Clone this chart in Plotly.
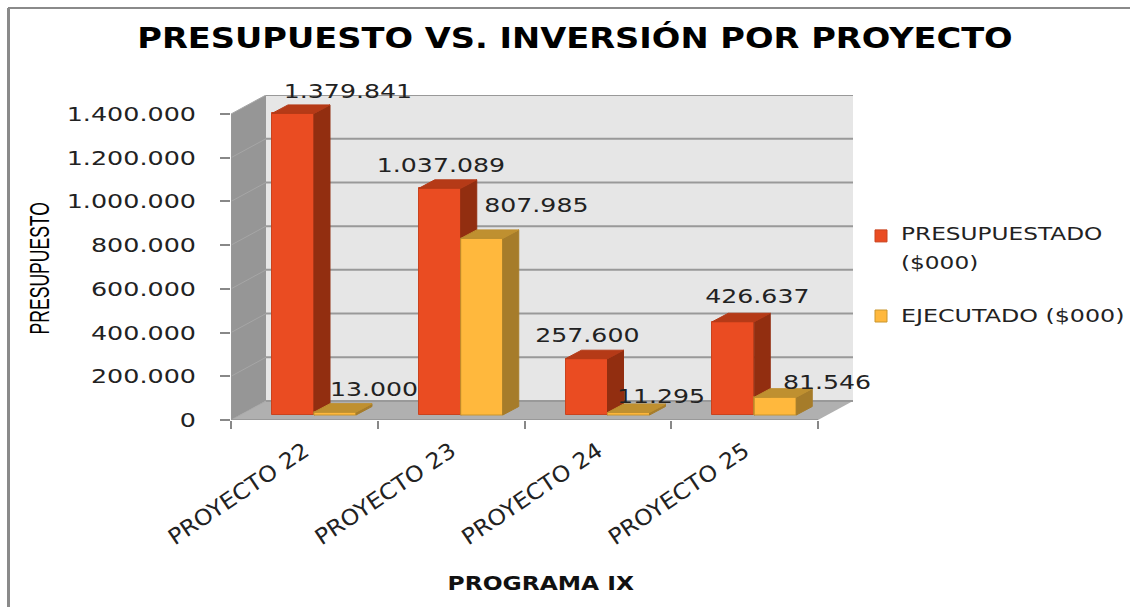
import plotly.graph_objects as go

categories = ["PROYECTO 22", "PROYECTO 23", "PROYECTO 24", "PROYECTO 25"]
presupuestado = [1379841, 1037089, 257600, 426637]
ejecutado = [13000, 807985, 11295, 81546]
y_ticks = [0, 200000, 400000, 600000, 800000, 1000000, 1200000, 1400000]
y_labels = ["0", "200.000", "400.000", "600.000", "800.000", "1.000.000", "1.200.000", "1.400.000"]


def es(v):
    return f"{v:,}".replace(",", ".")


W, H = 1130, 607
L, R, T, B = 231, 855, 95, 420
PX_X = 146.75
PX_Y = 306 / 1400000
xr = (R - L) / PX_X
yr = (B - T) / PX_Y


def vx(px):
    return px / PX_X


def vy(px):
    return px / PX_Y


WALL_DX, WALL_DY = vx(35), vy(19)
BAR_BASE = vy(5)
BAR_W = vx(42)
RED_OFF, YEL_OFF = vx(41), vx(83)
DEPTH_X, DEPTH_Y = vx(16), vy(8.5)

RED = dict(front="#EA4C22", edge="#C9431E", side="#922E10", top="#B53A17")
YEL = dict(front="#FFB83D", edge="#C9962F", side="#A67C2A", top="#BF9030")


def poly(xs, ys, color, line=None):
    return go.Scatter(x=xs + xs[:1], y=ys + ys[:1], mode="lines", fill="toself",
                      fillcolor=color, line=dict(color=line or color, width=1),
                      showlegend=False, hoverinfo="skip")


fig = go.Figure()
xs = list(range(4))
fig.add_bar(x=[g + RED_OFF + BAR_W / 2 for g in xs], y=presupuestado, base=BAR_BASE, width=BAR_W,
            name="PRESUPUESTADO<br>($000)", legendgroup="a",
            marker=dict(color=RED["front"], line=dict(color=RED["edge"], width=1)))
fig.add_bar(x=[g + YEL_OFF + BAR_W / 2 for g in xs], y=ejecutado, base=BAR_BASE, width=BAR_W,
            name="EJECUTADO ($000)", legendgroup="b",
            marker=dict(color=YEL["front"], line=dict(color=YEL["edge"], width=1)))

for g in xs:
    for off, val, c in ((RED_OFF, presupuestado[g], RED), (YEL_OFF, ejecutado[g], YEL)):
        x0 = g + off
        x1 = x0 + BAR_W
        y0 = BAR_BASE
        y1 = BAR_BASE + val
        if c is YEL:
            fig.add_trace(poly([x0, x1, x1, x0], [y0, y0, y1, y1], c["front"], c["edge"]))
        fig.add_trace(poly([x1, x1 + DEPTH_X, x1 + DEPTH_X, x1],
                           [y0, y0 + DEPTH_Y, y1 + DEPTH_Y, y1], c["side"]))
        fig.add_trace(poly([x0, x1, x1 + DEPTH_X, x0 + DEPTH_X],
                           [y1, y1, y1 + DEPTH_Y, y1 + DEPTH_Y], c["top"]))

shapes = []


def path(pts):
    return "M " + " L ".join(f"{x},{y}" for x, y in pts) + " Z"


top_v = y_ticks[-1]
front_end = len(categories)
shapes.append(dict(type="path", layer="below", line=dict(width=0), fillcolor="#E6E6E6",
                   path=path([(WALL_DX, WALL_DY), (front_end + WALL_DX, WALL_DY),
                              (front_end + WALL_DX, WALL_DY + top_v), (WALL_DX, WALL_DY + top_v)])))
shapes.append(dict(type="path", layer="below", line=dict(width=0), fillcolor="#969696",
                   path=path([(0, 0), (WALL_DX, WALL_DY), (WALL_DX, WALL_DY + top_v), (0, top_v)])))
shapes.append(dict(type="path", layer="below", line=dict(width=0), fillcolor="#B0B0B0",
                   path=path([(0, 0), (WALL_DX, WALL_DY), (front_end + WALL_DX, WALL_DY), (front_end, 0)])))
for t in y_ticks:
    shapes.append(dict(type="line", layer="below", x0=WALL_DX, x1=front_end + WALL_DX,
                       y0=WALL_DY + t, y1=WALL_DY + t, line=dict(color="#999999", width=2)))
    shapes.append(dict(type="line", layer="below", x0=0, x1=WALL_DX, y0=t, y1=WALL_DY + t,
                       line=dict(color="#A6A6A6", width=1)))
shapes.append(dict(type="line", layer="below", x0=0, x1=front_end, y0=0, y1=0,
                   line=dict(color="#999999", width=2)))
shapes.append(dict(type="line", layer="below", x0=0, x1=0, y0=0, y1=top_v,
                   line=dict(color="#999999", width=1.5)))


def paper_x(px):
    return (px - L) / (R - L)


def paper_y(py):
    return (B - py) / (B - T)


shapes.append(dict(type="line", xref="paper", yref="paper", x0=paper_x(8.5), x1=paper_x(8.5),
                   y0=paper_y(607), y1=paper_y(8), line=dict(color="#8A8A8A", width=3), layer="below"))
shapes.append(dict(type="line", xref="paper", yref="paper", x0=paper_x(8), x1=paper_x(1130),
                   y0=paper_y(8), y1=paper_y(8), line=dict(color="#8A8A8A", width=2), layer="below"))

label_shift_red = [(55, 22), (1, 23), (1, 24), (24, 26)]
label_shift_yel = [(39, 23), (55, 33), (32, 17), (52, 15)]
LABEL_FONT = dict(family="DejaVu Sans", size=20, color="#222222")
annotations = []
for g in xs:
    for off, val, sh in ((RED_OFF, presupuestado[g], label_shift_red[g]),
                         (YEL_OFF, ejecutado[g], label_shift_yel[g])):
        annotations.append(dict(x=g + off + BAR_W / 2, y=BAR_BASE + val, text=es(val), showarrow=False,
                                xshift=sh[0], yshift=sh[1], xanchor="center", yanchor="middle",
                                font=LABEL_FONT, name="value"))
annotations.append(dict(xref="paper", yref="paper", x=paper_x(541), y=paper_y(583), text="PROGRAMA IX",
                        showarrow=False, xanchor="center", yanchor="middle",
                        font=dict(family="DejaVu Sans", size=19, color="#111111", weight="bold")))
annotations.append(dict(xref="paper", yref="paper", x=paper_x(40), y=paper_y(268), text="PRESUPUESTO",
                        showarrow=False, textangle=-90, xanchor="center", yanchor="middle",
                        font=dict(family="Liberation Sans", size=27, color="#000000")))

fig.update_layout(
    width=W, height=H, barmode="overlay", bargap=0,
    paper_bgcolor="white", plot_bgcolor="rgba(0,0,0,0)",
    margin=dict(l=L, r=W - R, t=T, b=H - B, autoexpand=False),
    title=dict(text="PRESUPUESTO VS. INVERSIÓN POR PROYECTO", x=575 / W, xanchor="center",
               y=1 - 38 / H, yanchor="middle",
               font=dict(family="DejaVu Sans", size=29, color="#000000", weight="bold")),
    xaxis=dict(range=[0, xr], tickmode="array", tickvals=[g + 0.5 for g in xs], ticktext=categories,
               tickangle=-34, ticks="", showgrid=False, zeroline=False, showline=False,
               ticklabelstandoff=13, tickfont=dict(family="DejaVu Sans", size=22, color="#222222"),
               minor=dict(ticks="outside", ticklen=8, tickwidth=1.5, tickcolor="#888888",
                          tickmode="array", tickvals=list(range(5)), showgrid=False)),
    yaxis=dict(range=[0, yr], tickmode="array", tickvals=y_ticks, ticktext=y_labels, ticks="outside",
               ticklen=10, tickwidth=1.5, tickcolor="#888888", showgrid=False, zeroline=False, showline=False,
               ticklabelstandoff=20, tickfont=dict(family="DejaVu Sans", size=20, color="#222222")),
    legend=dict(x=(861 - L) / (R - L), xanchor="left", y=paper_y(215), yanchor="top",
                tracegroupgap=26, traceorder="grouped", bgcolor="rgba(0,0,0,0)",
                font=dict(family="DejaVu Sans", size=18, color="#222222")),
    shapes=shapes, annotations=annotations,
)

# The reference picture is stretched horizontally: widen the real text the same way.
post = """
document.body.style.margin='0';
function stretch(el,f){
  var n=el.getComputedTextLength();
  if(n>0){el.setAttribute('textLength',n*f);el.setAttribute('lengthAdjust','spacingAndGlyphs');}
}
function all(sel,f){document.querySelectorAll(sel).forEach(function(el){stretch(el,f);});}
all('.gtitle',1.16);
all('.xtick text',1.07);
all('.ytick text',1.27);
document.querySelectorAll('.legendtext').forEach(function(el){
  var lines=el.querySelectorAll('tspan.line');
  if(lines.length){
    lines.forEach(function(l){stretch(l,1.29);});
    lines[1].setAttribute('dy','29px');
  } else {stretch(el,1.32);el.setAttribute('transform','translate(0,6)');}
});
var pts=document.querySelectorAll('.legend .legendpoints');
if(pts.length>1){
  pts[0].setAttribute('transform','translate(0,-9)');
  pts[1].setAttribute('transform','translate(0,7)');
}
document.querySelectorAll('.legend .scrollbox').forEach(function(e){e.removeAttribute('clip-path');});
document.querySelectorAll('.annotation-text').forEach(function(el){
  var t=el.textContent, f=1.26;
  if(t==='PROGRAMA IX')f=1.23;
  if(t==='PRESUPUESTO')f=0.65;
  stretch(el,f);
});
"""
fig.write_html("out.html", post_script=post, config=dict(displayModeBar=False))
